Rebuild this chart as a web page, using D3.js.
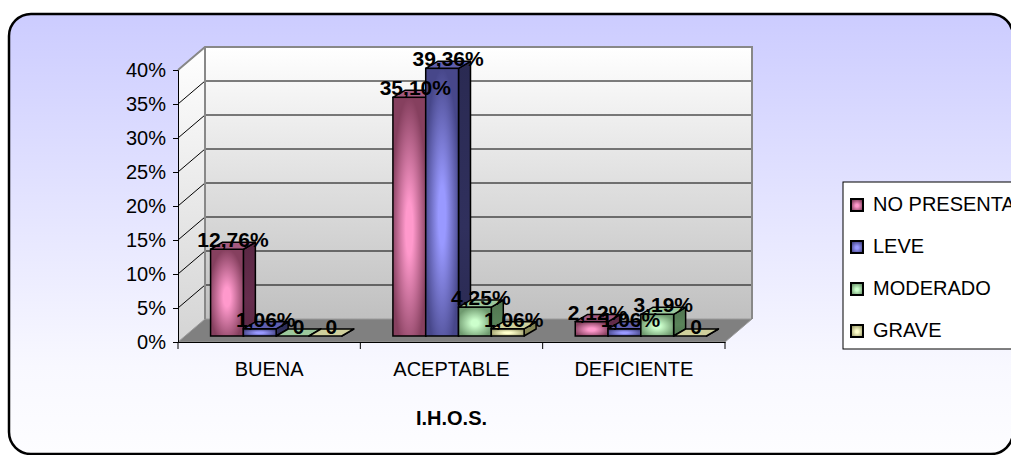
<!DOCTYPE html>
<html>
<head>
<meta charset="utf-8">
<script src="https://cdn.jsdelivr.net/npm/d3@7"></script>
<style>
  html, body { margin: 0; padding: 0; background: #ffffff; }
  svg { display: block; }
  text { font-family: Arial, "Liberation Sans", sans-serif; }
</style>
</head>
<body>
<svg id="chart" width="1011" height="455"></svg>
<script>
// I.H.O.S. by severity group (percentages)
const categories = ["BUENA", "ACEPTABLE", "DEFICIENTE"];
const seriesNames = ["NO PRESENTA", "LEVE", "MODERADO", "GRAVE"];
const noPresenta = [12.76, 35.10, 2.12];
const leve       = [1.06, 39.36, 1.06];
const moderado   = [0, 4.25, 3.19];
const grave      = [0, 1.06, 0];
const yTicks = [0, 5, 10, 15, 20, 25, 30, 35, 40];
const axisTitle = "I.H.O.S.";

const seriesValues = [noPresenta, leve, moderado, grave];

// colour ramps per series: light centre, dark edge, side, top
const palette = [
  { light: "#ff99cc", dark: "#86405f", side: "#5a2844", top: "#a45a80" },
  { light: "#9999ff", dark: "#47478a", side: "#2a2a52", top: "#5f5fb0" },
  { light: "#ccffcc", dark: "#6f9a6f", side: "#4f744f", top: "#9cc89c" },
  { light: "#ffffcc", dark: "#a3a370", side: "#7a7a4e", top: "#d0d09c" }
];

const svg = d3.select("#chart");
const defs = svg.append("defs");

// background of the chart frame
const bg = defs.append("linearGradient").attr("id", "bg")
  .attr("x1", 0).attr("y1", 0).attr("x2", 0).attr("y2", 1);
bg.append("stop").attr("offset", "0%").attr("stop-color", "#ccccff");
bg.append("stop").attr("offset", "80%").attr("stop-color", "#f8f8ff");
bg.append("stop").attr("offset", "100%").attr("stop-color", "#fdfdff");

const wall = defs.append("linearGradient").attr("id", "wall")
  .attr("x1", 0).attr("y1", 0).attr("x2", 0).attr("y2", 1);
wall.append("stop").attr("offset", "0%").attr("stop-color", "#ffffff");
wall.append("stop").attr("offset", "100%").attr("stop-color", "#c0c0c0");

const sideWall = defs.append("linearGradient").attr("id", "sidewall")
  .attr("x1", 0).attr("y1", 0).attr("x2", 0).attr("y2", 1);
sideWall.append("stop").attr("offset", "0%").attr("stop-color", "#ffffff");
sideWall.append("stop").attr("offset", "100%").attr("stop-color", "#d4d4d4");

palette.forEach((p, i) => {
  const rg = defs.append("radialGradient").attr("id", "front" + i)
    .attr("cx", "50%").attr("cy", "55%").attr("r", "55%");
  rg.append("stop").attr("offset", "0%").attr("stop-color", p.light);
  rg.append("stop").attr("offset", "20%").attr("stop-color", p.light);
  rg.append("stop").attr("offset", "100%").attr("stop-color", p.dark);
  const sg = defs.append("linearGradient").attr("id", "side" + i)
    .attr("x1", 0).attr("y1", 0).attr("x2", 0).attr("y2", 1);
  sg.append("stop").attr("offset", "0%").attr("stop-color", p.side);
  sg.append("stop").attr("offset", "60%").attr("stop-color", d3.color(p.side).brighter(0.35));
  sg.append("stop").attr("offset", "100%").attr("stop-color", p.side);
});

// outer frame
svg.append("rect")
  .attr("x", 9).attr("y", 14).attr("width", 1004).attr("height", 440)
  .attr("rx", 22).attr("ry", 22)
  .attr("fill", "url(#bg)").attr("stroke", "#000").attr("stroke-width", 2.5);

// plot geometry
const x0 = 178, x1 = 725;          // front plane, horizontal extent
const depth = { dx: 27, dy: -23 }; // floor depth
const barOff = { dx: 7, dy: -6 };  // bar front face offset from front plane
const barDepth = { dx: 12, dy: -7 };

const y = d3.scaleLinear().domain([0, 40]).range([342, 70]);
const x = d3.scaleBand().domain(categories).range([x0, x1]).paddingInner(0).paddingOuter(0);
const xs = d3.scaleBand().domain(seriesNames).range([0, x.bandwidth()])
  .paddingInner(0).paddingOuter(0.78);

const pts = a => a.map(p => p.join(",")).join(" ");

// back wall
svg.append("polygon")
  .attr("points", pts([[x0 + depth.dx, y(40) + depth.dy], [x1 + depth.dx, y(40) + depth.dy],
                       [x1 + depth.dx, y(0) + depth.dy], [x0 + depth.dx, y(0) + depth.dy]]))
  .attr("fill", "url(#wall)");

// left side wall
svg.append("polygon")
  .attr("points", pts([[x0, y(40)], [x0 + depth.dx, y(40) + depth.dy],
                       [x0 + depth.dx, y(0) + depth.dy], [x0, y(0)]]))
  .attr("fill", "url(#sidewall)");

// gridlines on back wall and side wall
const grid = svg.append("g");
yTicks.forEach(t => {
  if (t > 0 && t < 40) {
    grid.append("line")
      .attr("x1", x0 + depth.dx).attr("x2", x1 + depth.dx)
      .attr("y1", y(t) + depth.dy).attr("y2", y(t) + depth.dy)
      .attr("stroke", "#000").attr("stroke-width", 1);
  }
  if (t > 0) {
    grid.append("line")
      .attr("x1", x0).attr("y1", y(t))
      .attr("x2", x0 + depth.dx).attr("y2", y(t) + depth.dy)
      .attr("stroke", "#000").attr("stroke-width", 1);
  }
});

// floor
svg.append("polygon")
  .attr("points", pts([[x0, y(0)], [x1, y(0)], [x1 + depth.dx, y(0) + depth.dy], [x0 + depth.dx, y(0) + depth.dy]]))
  .attr("fill", "#808080").attr("stroke", "#9a9a9a").attr("stroke-width", 1);

// wall edges
svg.append("polyline")
  .attr("points", pts([[x0, y(40)], [x0 + depth.dx, y(40) + depth.dy], [x1 + depth.dx, y(40) + depth.dy],
                       [x1 + depth.dx, y(0) + depth.dy]]))
  .attr("fill", "none").attr("stroke", "#888").attr("stroke-width", 2);
svg.append("line")
  .attr("x1", x0 + depth.dx).attr("y1", y(40) + depth.dy)
  .attr("x2", x0 + depth.dx).attr("y2", y(0) + depth.dy)
  .attr("stroke", "#888").attr("stroke-width", 2);

// bars
const bars = [];
categories.forEach((c, ci) => {
  seriesNames.forEach((s, si) => {
    bars.push({ c, s, ci, si, v: seriesValues[si][ci] });
  });
});

const barG = svg.append("g");
bars.forEach(b => {
  const fx = x(b.c) + xs(b.s) + barOff.dx;
  const w = xs.bandwidth();
  const yb = y(0) + barOff.dy;
  const yt = y(b.v) + barOff.dy;
  const g = barG.append("g");
  // side face
  g.append("polygon")
    .attr("points", pts([[fx + w, yt], [fx + w + barDepth.dx, yt + barDepth.dy],
                         [fx + w + barDepth.dx, yb + barDepth.dy], [fx + w, yb]]))
    .attr("fill", "url(#side" + b.si + ")").attr("stroke", "#000").attr("stroke-width", 1.5)
    .attr("stroke-linejoin", "round");
  // front face
  if (yb - yt > 0.5) {
    g.append("rect")
      .attr("x", fx).attr("y", yt).attr("width", w).attr("height", yb - yt)
      .attr("fill", "url(#front" + b.si + ")").attr("stroke", "#000").attr("stroke-width", 1.5);
  }
  // top face
  g.append("polygon")
    .attr("points", pts([[fx, yt], [fx + w, yt], [fx + w + barDepth.dx, yt + barDepth.dy], [fx + barDepth.dx, yt + barDepth.dy]]))
    .attr("fill", palette[b.si].top).attr("stroke", "#000").attr("stroke-width", 1.5)
    .attr("stroke-linejoin", "round");
});

// axes
const yAxis = d3.axisLeft(y).tickValues(yTicks).tickFormat(d => d + "%").tickSize(5).tickPadding(7);
const yg = svg.append("g").attr("transform", `translate(${x0},0)`).call(yAxis);
yg.select(".domain").attr("stroke", "#000").attr("stroke-width", 1);
yg.selectAll("text").attr("font-size", 20).attr("fill", "#000")
  .attr("font-family", "Arial, 'Liberation Sans', sans-serif");

const xAxis = d3.axisBottom(x).tickSize(0).tickPadding(20);
const xg = svg.append("g").attr("transform", `translate(0,${y(0)})`).call(xAxis);
xg.select(".domain").attr("stroke", "#000").attr("stroke-width", 1);
xg.selectAll("text").attr("font-size", 20).attr("fill", "#000")
  .attr("font-family", "Arial, 'Liberation Sans', sans-serif");
// category boundary ticks
const boundaries = categories.map(c => x(c)).concat([x1]);
xg.selectAll("line.bound").data(boundaries).join("line").attr("class", "bound")
  .attr("x1", d => d).attr("x2", d => d).attr("y1", 0).attr("y2", 7)
  .attr("stroke", "#000");

// axis title
svg.append("text")
  .attr("x", (x0 + x1) / 2).attr("y", 425)
  .attr("text-anchor", "middle").attr("font-size", 20).attr("font-weight", "bold")
  .text(axisTitle);

// data labels
const fmt = v => v === 0 ? "0" : v.toFixed(2).replace(".", ",") + "%";
svg.append("g").selectAll("text").data(bars).join("text")
  .attr("x", b => x(b.c) + xs(b.s) + barOff.dx + xs.bandwidth() / 2 + 6)
  .attr("y", b => y(b.v) + barOff.dy - 2)
  .attr("text-anchor", "middle").attr("font-size", 21).attr("font-weight", "bold")
  .attr("fill", "#000")
  .text(b => fmt(b.v));

// legend
const lg = svg.append("g");
lg.append("rect").attr("x", 843).attr("y", 182).attr("width", 200).attr("height", 167)
  .attr("fill", "#fff").attr("stroke", "#000").attr("stroke-width", 1);
seriesNames.forEach((s, i) => {
  const by = 211 + i * 42;
  lg.append("rect").attr("x", 851).attr("y", by - 12).attr("width", 12).attr("height", 12)
    .attr("fill", "url(#front" + i + ")").attr("stroke", "#000").attr("stroke-width", 2);
  lg.append("text").attr("x", 873).attr("y", by).attr("font-size", 20).attr("fill", "#000").text(s);
});
</script>
</body>
</html>
